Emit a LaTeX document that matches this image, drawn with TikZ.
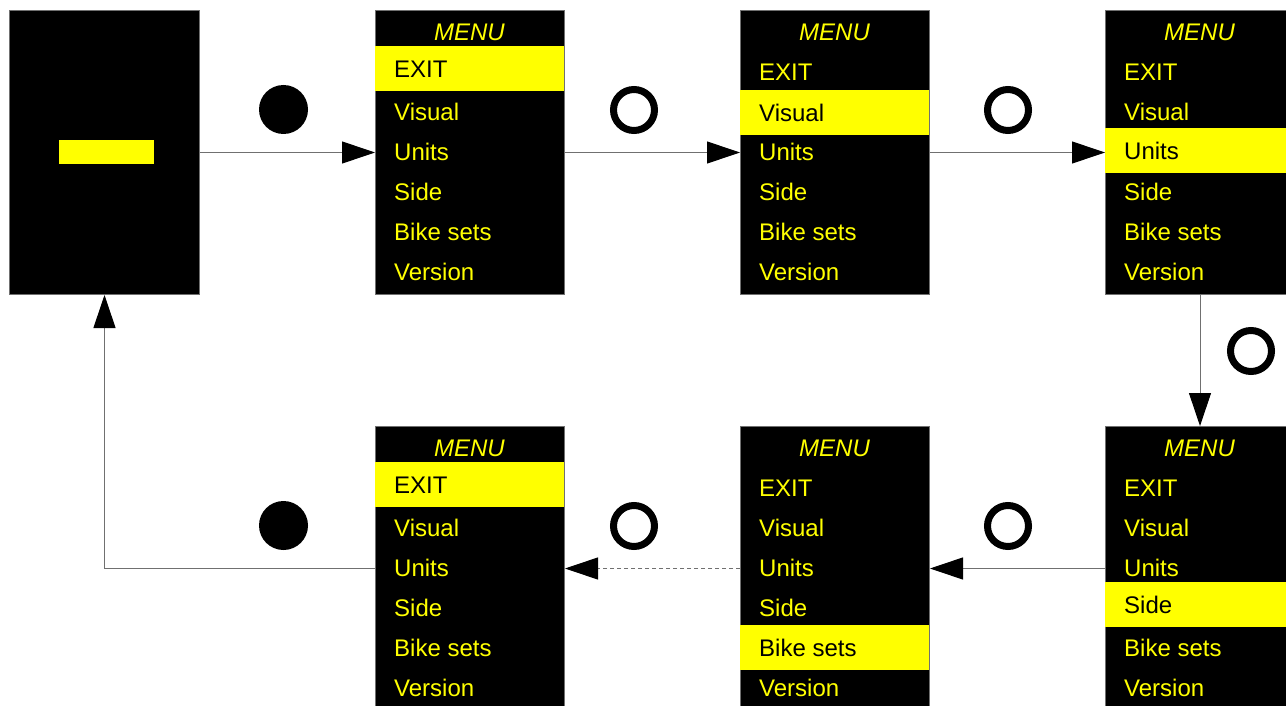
\documentclass[tikz,border=0pt]{standalone}
\usepackage{fontspec}
\setmainfont{Liberation Sans}
\usetikzlibrary{arrows.meta}
\definecolor{scrY}{HTML}{FFFF00}
\definecolor{lineG}{HTML}{707070}
\tikzset{
 screen/.style={draw=lineG, line width=1pt, fill=black, anchor=north west, inner sep=0pt, minimum width=189pt, minimum height=284pt},
 band/.style={fill=scrY, anchor=north west, inner sep=0pt, minimum width=189pt, minimum height=45pt},
 item/.style={anchor=base west, inner sep=0pt, font=\fontsize{24}{28}\selectfont},
 ttl/.style={anchor=base, inner sep=0pt, text=scrY, font=\fontsize{24}{28}\selectfont\itshape},
 conn/.style={draw=lineG, line width=1pt, -{Triangle[length=33pt,width=22pt,color=black]}},
 press/.style={circle, fill=black, minimum size=49pt, inner sep=0pt},
 tap/.style={circle, draw=black, line width=7pt, minimum size=41pt, inner sep=0pt},
}
\newcommand\menuscreen[5]{%
 \node[screen] (#1) at (#2,#3) {};
 \node[band] (#1-hl) at (#2,{#3+#5}) {};
 \node[ttl] (#1-t) at ({#2+94.5},{#3+22+8.6}) {MENU};
 \foreach \lbl [count=\i] in {EXIT,Visual,Units,Side,Bike sets,Version}{
   \ifnum\i=#4
     \node[item,text=black] (#1-\i) at ({#2+19},{#3+#5+22.5+8.6}) {\lbl};
   \else
     \node[item,text=scrY] (#1-\i) at ({#2+19},{#3+62+40*(\i-1)+8.6}) {\lbl};
   \fi
 }
}
\begin{document}
\begin{tikzpicture}[x=1pt,y=-1pt]
\useasboundingbox[fill=white] (0,0) rectangle (1286,706);
% start screen
\node[screen, minimum width=190pt] (start) at (9,10) {};
\node[fill=scrY, minimum width=95pt, minimum height=24pt, inner sep=0pt, anchor=north west] (bar) at (59,140) {};
% menu screens
\menuscreen{m1}{375}{10}{1}{36}
\menuscreen{m2}{740}{10}{2}{80}
\menuscreen{m3}{1105}{10}{3}{118}
\menuscreen{m4}{1105}{426}{4}{156}
\menuscreen{m5}{740}{426}{5}{199}
\menuscreen{m6}{375}{426}{1}{36}
% connectors
\draw[conn] (start.east) -- (m1.west);
\draw[conn] (m1.east) -- (m2.west);
\draw[conn] (m2.east) -- (m3.west);
\draw[conn] (m3.south) -- (m4.north);
\draw[conn] (m4.west) -- (m5.east);
\draw[conn, dashed, dash pattern=on 4pt off 3pt] (m5.west) -- (m6.east);
\draw[conn] (m6.west) -| (start.south);
% button symbols
\node[press] (c1) at (283.5,109.5) {};
\node[tap] (c2) at (634,110) {};
\node[tap] (c3) at (1008,110) {};
\node[tap] (c4) at (1251,351) {};
\node[tap] (c5) at (634,526) {};
\node[tap] (c6) at (1008,526) {};
\node[press] (c7) at (283.5,525.5) {};
\end{tikzpicture}
\end{document}
